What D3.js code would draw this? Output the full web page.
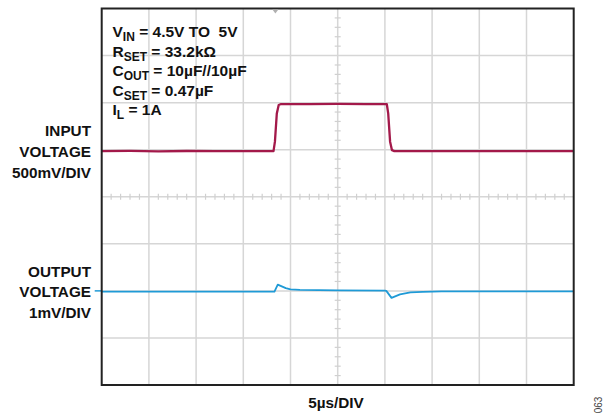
<!DOCTYPE html>
<html><head><meta charset="utf-8">
<script src="https://cdn.jsdelivr.net/npm/d3@7"></script>
<style>
body{margin:0;background:#fff;}
svg{display:block;}
text{font-family:"Liberation Sans",Arial,sans-serif;white-space:pre;}
</style></head>
<body>
<svg id="c" width="613" height="417"></svg>
<script>
// Scope settings
const timePerDiv = 5;        // µs/DIV
const xDivs = 10, yDivs = 8;
const inputVPerDiv = 0.5;    // V/DIV
const inputOffsetDiv = -4.03;
const outputMvPerDiv = 1;    // mV/DIV
const outputCenterDiv = 2;
const triggerT = 18.4;       // µs

// Input voltage trace (time µs, volts)
const inputT = [0, 3, 6, 9, 12, 15, 18.2, 18.35, 18.55, 18.75, 19.0, 22, 25, 28, 30.2, 30.35, 30.55, 30.75, 31.0, 35, 40, 45, 50];
const inputV = [4.5, 4.502, 4.498, 4.501, 4.499, 4.5, 4.5, 4.6, 4.9, 4.99, 5.0, 5.0, 5.001, 5.0, 5.0, 4.9, 4.6, 4.51, 4.5, 4.499, 4.5, 4.499, 4.5];

// Output voltage deviation trace (time µs, mV)
const outputT = [0, 10, 18.3, 18.65, 19.5, 20.0, 21, 25, 30.0, 30.15, 30.7, 31.6, 32.7, 34, 36, 50];
const outputMv = [-0.015, -0.015, -0.015, 0.134, 0.06, 0.032, 0.02, 0.01, 0.006, 0.0, -0.149, -0.074, -0.032, -0.02, -0.012, -0.012];

// Text
const conditions = [
  [["V",""],["IN","sub"],[" = 4.5V TO  5V",""]],
  [["R",""],["SET","sub"],[" = 33.2kΩ",""]],
  [["C",""],["OUT","sub"],[" = 10µF//10µF",""]],
  [["C",""],["SET","sub"],[" = 0.47µF",""]],
  [["I",""],["L","sub"],[" = 1A",""]]
];
const inputLabel = ["INPUT", "VOLTAGE", "500mV/DIV"];
const outputLabel = ["OUTPUT", "VOLTAGE", "1mV/DIV"];
const xLabel = "5µs/DIV";
const figId = "063";

const svg = d3.select("#c");
const L = 101.7, R = 573.7, T = 8.5, B = 385;
const x = d3.scaleLinear().domain([0, xDivs * timePerDiv]).range([L, R]);
const y = d3.scaleLinear().domain([0, yDivs]).range([B, T]);

// grid
const g = svg.append("g");
d3.range(1, xDivs).forEach(i => {
  g.append("line").attr("x1", x(i*timePerDiv)).attr("x2", x(i*timePerDiv))
   .attr("y1", T).attr("y2", B).attr("stroke", "#d6d6d6").attr("stroke-width", 1.5);
});
d3.range(1, yDivs).forEach(i => {
  g.append("line").attr("x1", L).attr("x2", R)
   .attr("y1", y(i)).attr("y2", y(i)).attr("stroke", "#d6d6d6").attr("stroke-width", 1.5);
});
// minor ticks on center lines
const cx = x(xDivs*timePerDiv/2), cy = y(yDivs/2);
d3.range(0, yDivs*5+1).forEach(k => {
  if (k % 5 === 0) return;
  const yy = y(k/5);
  g.append("line").attr("x1", cx-3).attr("x2", cx+3).attr("y1", yy).attr("y2", yy)
   .attr("stroke", "#d0d0d0").attr("stroke-width", 1.2);
});
d3.range(0, xDivs*5+1).forEach(k => {
  if (k % 5 === 0) return;
  const xx = x(k*timePerDiv/5);
  g.append("line").attr("x1", xx).attr("x2", xx).attr("y1", cy-3).attr("y2", cy+3)
   .attr("stroke", "#d0d0d0").attr("stroke-width", 1.2);
});

// traces
const inLine = d3.line().x((d,i) => x(inputT[i])).y(d => y(inputOffsetDiv + d / inputVPerDiv));
svg.append("path").attr("d", inLine(inputV)).attr("fill", "none")
  .attr("stroke", "#a3194a").attr("stroke-width", 2.3).attr("stroke-linejoin", "round");
const outLine = d3.line().x((d,i) => x(outputT[i])).y(d => y(outputCenterDiv + d / outputMvPerDiv));
svg.append("path").attr("d", outLine(outputMv)).attr("fill", "none")
  .attr("stroke", "#1f9ad6").attr("stroke-width", 1.8).attr("stroke-linejoin", "round");

// channel marker for output
svg.append("line").attr("x1", L-7).attr("x2", L).attr("y1", y(outputCenterDiv)).attr("y2", y(outputCenterDiv))
  .attr("stroke", "#1f9ad6").attr("stroke-width", 1.5);

// frame
svg.append("rect").attr("x", L).attr("y", T).attr("width", R-L).attr("height", B-T)
  .attr("fill", "none").attr("stroke", "#222").attr("stroke-width", 2);

// trigger marker
const tx = x(triggerT);
svg.append("path").attr("d", `M${tx-3},${T+1}L${tx+3},${T+1}L${tx},${T+5}Z`).attr("fill", "#b0b0b0");

// conditions text
conditions.forEach((parts, i) => {
  const t = svg.append("text").attr("x", 112.5).attr("y", 37 + i*19.6)
    .attr("font-size", 15.5).attr("font-weight", "bold").attr("fill", "#111");
  parts.forEach(([s, kind], j) => {
    const ts = t.append("tspan").text(s);
    if (kind === "sub") ts.attr("font-size", 12).attr("dy", 4);
    else if (j > 0 && parts[j-1][1] === "sub") ts.attr("dy", -4);
  });
});

// side labels
inputLabel.forEach((s, i) => {
  svg.append("text").attr("x", 91).attr("y", 136 + i*21).attr("text-anchor", "end")
    .attr("font-size", 15.3).attr("font-weight", "bold").attr("fill", "#111").text(s);
});
outputLabel.forEach((s, i) => {
  svg.append("text").attr("x", 91).attr("y", 276.5 + i*20.8).attr("text-anchor", "end")
    .attr("font-size", 15.3).attr("font-weight", "bold").attr("fill", "#111").text(s);
});

// x label
svg.append("text").attr("x", 336).attr("y", 407.5).attr("text-anchor", "middle")
  .attr("font-size", 15.3).attr("font-weight", "bold").attr("fill", "#111").text(xLabel);

// figure id
svg.append("text").attr("transform", "translate(602,405) rotate(-90)").attr("text-anchor", "middle")
  .attr("font-size", 10).attr("fill", "#444").text(figId);
</script>
</body></html>
